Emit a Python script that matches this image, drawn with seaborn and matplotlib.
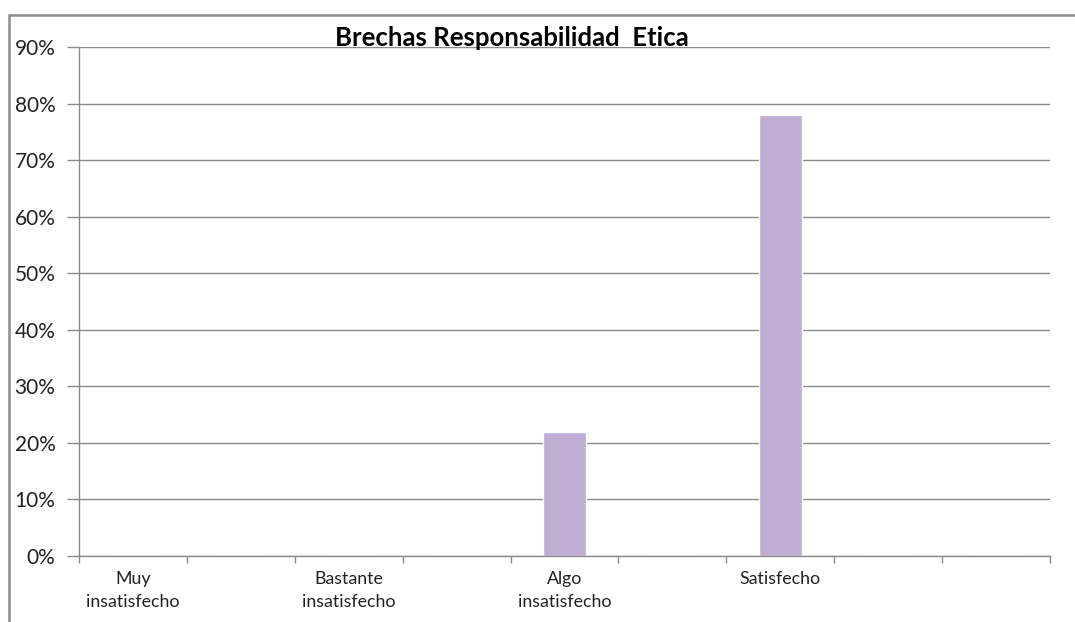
import matplotlib.pyplot as plt
import seaborn as sns
import numpy as np
from matplotlib.patches import Rectangle
from matplotlib.ticker import PercentFormatter

# Datos (9 posiciones de categoria, etiquetas cada dos)
labels = ["Muy\ninsatisfecho", "", "Bastante\ninsatisfecho", "", "Algo\ninsatisfecho",
          "", "Satisfecho", "", ""]
values = [0, 0, 0, 0, 0.22, 0, 0.78, 0, 0]
title = "Brechas Responsabilidad  Etica"

sns.set_theme(style="white")
plt.rcParams['font.family'] = ['Lato', 'DejaVu Sans']

grid_color = '#8a8a8a'
bar_color = '#bfadd4'

fig = plt.figure(figsize=(10.75, 6.22), dpi=100)
ax = fig.add_axes([0.0735, 0.1061, 0.9032, 0.8183])

pos = np.arange(len(values))
sns.barplot(x=pos, y=values, color=bar_color, width=0.4, saturation=1, ax=ax)

ax.set_xlim(-0.5, len(values) - 0.5)
ax.set_ylim(0, 0.9)
ax.set_yticks(np.arange(0, 0.91, 0.1))
ax.yaxis.set_major_formatter(PercentFormatter(1.0, decimals=0))
ax.grid(axis='y', color=grid_color, linewidth=1)
ax.set_axisbelow(True)

# etiquetas centradas, marcas en los limites de cada categoria
ax.set_xticks(pos)
ax.set_xticklabels(labels, fontsize=12.8, color='#222222', linespacing=1.55)
ax.set_xticks(np.arange(-0.5, len(values)), minor=True)
ax.tick_params(axis='x', which='major', length=0, pad=11)
ax.tick_params(axis='x', which='minor', length=5, width=1, color=grid_color, direction='out')
ax.tick_params(axis='y', length=9, width=1, color=grid_color, direction='out',
               labelsize=15, pad=8, labelcolor='#222222')
ax.tick_params(bottom=True, left=True, which='both')
ax.set_xlabel('')
ax.set_ylabel('')

sns.despine(ax=ax, top=True, right=True)
for s in ['left', 'bottom']:
    ax.spines[s].set_color(grid_color)
    ax.spines[s].set_linewidth(1)

fig.text(0.476, 0.939, title, ha='center', va='center', fontsize=18.5,
         fontweight='bold', color='black')

# marco exterior del grafico
fig.patches.append(Rectangle((0.0088, -0.1), 1.2, 1.0755, transform=fig.transFigure,
                             fill=False, edgecolor='#8c8c8c', linewidth=1.8, zorder=0))

fig.savefig('out.png', dpi=100)
